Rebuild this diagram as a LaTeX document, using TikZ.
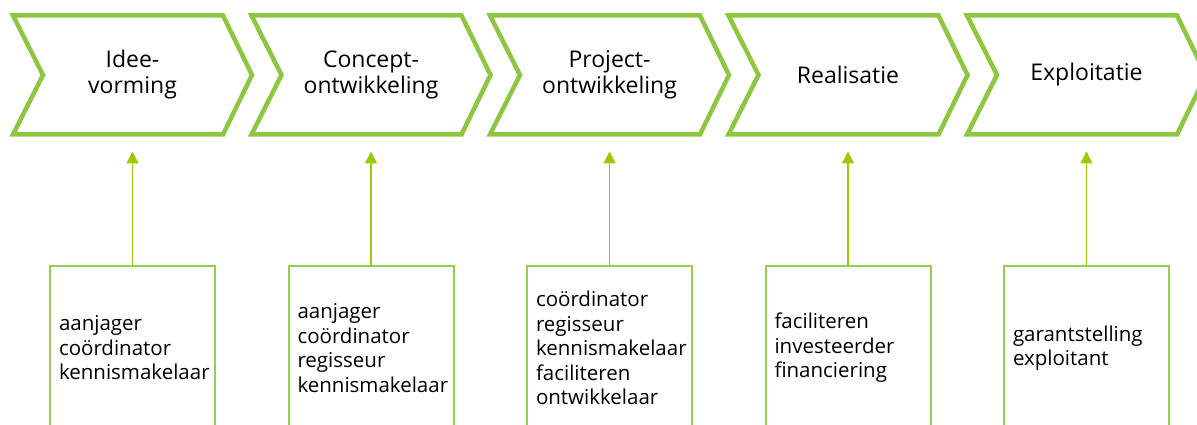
\documentclass[tikz,border=0pt]{standalone}
\usepackage{fontspec}
\setmainfont{Open Sans}
\usetikzlibrary{arrows.meta,calc}
\definecolor{chevgreen}{RGB}{141,198,63}
\definecolor{boxgreen}{RGB}{146,208,80}
\definecolor{arrowgreen}{RGB}{153,204,0}

\begin{document}
\begin{tikzpicture}[x=1pt,y=-1pt,
  phase/.style={minimum width=239pt, minimum height=119pt, inner sep=0pt,
    outer sep=0pt, align=center, font=\fontsize{23}{26}\selectfont},
  chevline/.style={draw=chevgreen, line width=4.5pt, line join=miter},
  rolebox/.style={draw=boxgreen, line width=2pt, minimum width=165pt,
    minimum height=164pt, text width=147pt, inner xsep=9pt, inner ysep=0pt,
    outer sep=0pt, align=left, font=\fontsize{20.5}{24.5}\selectfont},
  uparrow/.style={draw=arrowgreen, line width=1.5pt,
    -{Triangle[length=12pt,width=12pt]}, shorten >=17pt}]
\useasboundingbox (0,0) rectangle (1197,425);
\clip (0,0) rectangle (1197,425);

% phase chevrons
\foreach \i/\txt in {1/{Idee-\\vorming}, 2/{Concept-\\ontwikkeling},
    3/{Project-\\ontwikkeling}, 4/{Realisatie}, 5/{Exploitatie}} {
  \node[phase] (chev\i) at ({132.5+238.5*(\i-1)},75) {\txt};
  \draw[chevline] (chev\i.north west) -- ($(chev\i.north east)+(-29,0)$)
    -- (chev\i.east) -- ($(chev\i.south east)+(-29,0)$)
    -- (chev\i.south west) -- ($(chev\i.west)+(30,0)$) -- cycle;
}

% roles per phase
\foreach \i/\txt in {1/{aanjager\\coördinator\\kennismakelaar},
    2/{aanjager\\coördinator\\regisseur\\kennismakelaar},
    3/{coördinator\\regisseur\\kennismakelaar\\faciliteren\\ontwikkelaar},
    4/{faciliteren\\investeerder\\financiering},
    5/{garantstelling\\exploitant}} {
  \node[rolebox] (role\i) at ({132.5+238.5*(\i-1)},348) {\txt};
  \draw[uparrow] (role\i.north) -- (chev\i.south);
}
\end{tikzpicture}
\end{document}
